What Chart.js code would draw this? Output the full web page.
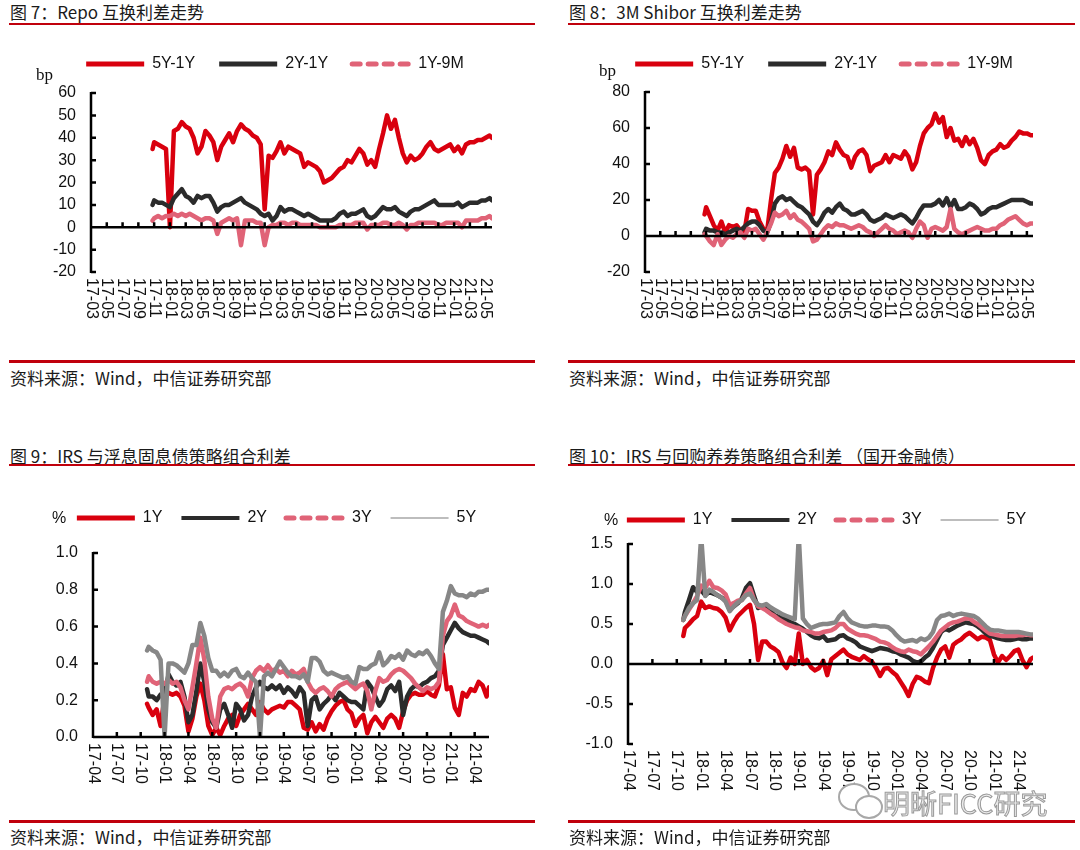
<!DOCTYPE html>
<html>
<head>
<meta charset="utf-8">
<script src="https://cdn.jsdelivr.net/npm/chart.js@4.4.1/dist/chart.umd.min.js"></script>
<style>
  body { margin: 0; width: 1080px; height: 850px; background: #fff; position: relative; overflow: hidden;
         font-family: "Noto Sans CJK SC", sans-serif; color: #1a1a1a; }
  canvas { position: absolute; }
  .title, .src { position: absolute; font-size: 17px; line-height: 20px; white-space: nowrap; }
  .rule { position: absolute; background: #c0000c; }
  .unit { position: absolute; font-size: 16px; line-height: 16px; font-family: "Liberation Sans", Arial, sans-serif; color: #111; }
  .serif { font-family: "Liberation Serif", serif; font-size: 17px; }
  .wm { position: absolute; font-size: 27px; line-height: 30px; color: #ececec; -webkit-text-stroke: 1px #9a9a9a; white-space: nowrap; }
  .bubble { position: absolute; border: 2px solid #a8a8a8; border-radius: 50%; background: #fff; }
</style>
</head>
<body>

<div class="title" style="left:10px;top:2px">图 7：Repo 互换利差走势</div>
<div class="rule" style="left:9px;top:23px;width:526px;height:2px"></div>
<div class="title" style="left:569px;top:2px">图 8：3M Shibor 互换利差走势</div>
<div class="rule" style="left:568px;top:23px;width:507px;height:2px"></div>

<canvas id="c7" width="540" height="300" style="left:0;top:30px"></canvas>
<canvas id="c8" width="540" height="300" style="left:540px;top:30px"></canvas>
<span class="unit serif" style="left:36px;top:67px">bp</span>
<span class="unit serif" style="left:599px;top:63px">bp</span>

<div class="rule" style="left:9px;top:360px;width:526px;height:3px"></div>
<div class="src" style="left:10px;top:368px">资料来源：Wind，中信证券研究部</div>
<div class="rule" style="left:568px;top:360px;width:507px;height:3px"></div>
<div class="src" style="left:569px;top:368px">资料来源：Wind，中信证券研究部</div>

<div class="title" style="left:10px;top:446px">图 9：IRS 与浮息固息债策略组合利差</div>
<div class="rule" style="left:9px;top:464px;width:526px;height:2px"></div>
<div class="title" style="left:569px;top:446px">图 10：IRS 与回购养券策略组合利差 （国开金融债）</div>
<div class="rule" style="left:568px;top:464px;width:507px;height:2px"></div>

<canvas id="c9" width="540" height="330" style="left:0;top:480px"></canvas>
<canvas id="c10" width="540" height="330" style="left:540px;top:480px"></canvas>
<span class="unit" style="left:52px;top:510px">%</span>
<span class="unit" style="left:604px;top:512px">%</span>

<div class="bubble" style="left:838px;top:783px;width:28px;height:24px"></div>
<div class="bubble" style="left:855px;top:795px;width:24px;height:20px"></div>
<div class="wm" style="left:883px;top:788px">明晰FICC研究</div>

<div class="rule" style="left:9px;top:820px;width:526px;height:3px"></div>
<div class="src" style="left:10px;top:827px">资料来源：Wind，中信证券研究部</div>
<div class="rule" style="left:568px;top:820px;width:507px;height:3px"></div>
<div class="src" style="left:569px;top:827px">资料来源：Wind，中信证券研究部</div>

<script>
// sample dates (yy-mm-dd), shared by all four charts
const dates = `
17-10-25 17-11-01 17-11-16 17-12-01 17-12-16
18-01-01 18-01-16 18-02-01 18-02-16 18-03-01 18-03-16 18-04-01 18-04-16 18-05-01 18-05-16 18-06-01 18-06-16
18-07-01 18-07-16 18-08-01 18-08-16 18-09-01 18-09-16 18-10-01 18-10-16 18-11-01 18-11-16 18-12-01 18-12-16
19-01-01 19-01-16 19-02-01 19-02-16 19-03-01 19-03-16 19-04-01 19-04-16 19-05-01 19-05-16 19-06-01 19-06-16
19-07-01 19-07-16 19-08-01 19-08-16 19-09-01 19-09-16 19-10-01 19-10-16 19-11-01 19-11-16 19-12-01 19-12-16
20-01-01 20-01-16 20-02-01 20-02-16 20-03-01 20-03-16 20-04-01 20-04-16 20-05-01 20-05-16 20-06-01 20-06-16
20-07-01 20-07-16 20-08-01 20-08-16 20-09-01 20-09-16 20-10-01 20-10-16 20-11-01 20-11-16 20-12-01 20-12-16
21-01-01 21-01-16 21-02-01 21-02-16 21-03-01 21-03-16 21-04-01 21-04-16 21-05-01 21-05-16 21-05-25
`.trim().split(/\s+/);

const ticks2m = ['17-03','17-05','17-07','17-09','17-11','18-01','18-03','18-05','18-07','18-09','18-11',
  '19-01','19-03','19-05','19-07','19-09','19-11','20-01','20-03','20-05','20-07','20-09','20-11','21-01','21-03','21-05'];
const ticks3m = ['17-04','17-07','17-10','18-01','18-04','18-07','18-10','19-01','19-04','19-07','19-10',
  '20-01','20-04','20-07','20-10','21-01','21-04'];

// 图7 Repo swap spreads (bp)
const repo5y1y = [35, 38, 37, 36, 35,
  0, 43, 44, 47, 45, 44, 40, 33, 36, 43, 41, 38, 30, 36, 39, 42, 38, 43, 46, 44, 43, 41, 40, 37,
  8, 32, 31, 34, 38, 33, 36, 35, 34, 33, 27, 29, 28, 27, 25, 20, 21, 22, 24, 26, 27, 30, 29, 32,
  35, 33, 28, 30, 27, 35, 42, 50, 44, 48, 40, 33, 29, 32, 30, 31, 33, 36, 38, 35, 34, 35, 36, 37,
  34, 36, 33, 37, 38, 38, 39, 39, 40, 41, 40];
const repo2y1y = [10, 12, 11, 11, 10,
  9, 13, 15, 17, 14, 13, 11, 14, 13, 14, 14, 11, 7, 9, 10, 10, 11, 12, 13, 11, 10, 9, 8, 6,
  5, 6, 3, 5, 9, 7, 8, 8, 7, 6, 5, 6, 5, 4, 3, 3, 3, 3, 4, 6, 7, 5, 6, 6,
  7, 8, 5, 4, 5, 7, 9, 8, 8, 9, 7, 6, 5, 7, 8, 8, 9, 10, 11, 12, 10, 10, 10, 10,
  10, 11, 9, 10, 11, 11, 11, 12, 12, 13, 12];
const repo1y9m = [3, 4, 5, 4, 5,
  5, 6, 5, 6, 5, 6, 5, 4, 3, 4, 4, 3, -3, 2, 3, 4, 3, 4, -8, 3, 3, 3, 2, 2,
  -8, 0, 1, 1, 2, 2, 1, 2, 2, 1, 1, 1, 1, 1, 0, 0, 0, 0, 0, 1, 1, 1, 1, 2,
  2, 2, -1, 1, 1, 1, 2, 2, 1, 1, 2, 1, -1, 1, 1, 2, 2, 2, 2, 2, 1, 1, 2, 2,
  2, 2, 0, 3, 3, 3, 3, 4, 4, 5, 4];

// 图8 3M Shibor swap spreads (bp)
const shibor5y1y = [12, 16, 11, 6, 3,
  8, 2, 6, 5, 6, 3, 2, 15, 14, 14, 8, 4, 3, 20, 35, 38, 43, 50, 44, 49, 38, 37, 38, 36,
  12, 34, 37, 41, 47, 45, 52, 48, 45, 44, 38, 44, 47, 48, 45, 36, 39, 40, 41, 45, 41, 45, 44, 43,
  47, 44, 37, 41, 50, 57, 60, 62, 68, 63, 66, 55, 60, 53, 54, 50, 55, 51, 54, 49, 42, 40, 45, 47,
  48, 51, 49, 50, 53, 55, 58, 57, 57, 56, 56];
const shibor2y1y = [2, 4, 3, 3, 2,
  2, 1, 2, 3, 4, 3, 5, 7, 8, 8, 6, 3, 2, 8, 18, 21, 22, 20, 21, 19, 17, 16, 14, 12,
  8, 6, 9, 13, 15, 13, 16, 18, 15, 14, 12, 12, 13, 14, 12, 9, 8, 9, 10, 12, 11, 10, 11, 12,
  11, 9, 7, 10, 14, 17, 17, 17, 18, 20, 17, 21, 16, 20, 15, 15, 16, 18, 17, 15, 12, 13, 15, 16,
  16, 17, 18, 19, 20, 20, 20, 20, 19, 18, 18];
const shibor1y9m = [1, 0, -3, -5, 1,
  -5, -2, 0, -1, 1, 2, -1, 4, 3, 4, 1, -2, 2, 7, 13, 11, 12, 14, 10, 12, 9, 8, 6, 4,
  -3, -2, 1, 4, 6, 5, 7, 6, 6, 5, 4, 5, 6, 5, 3, 2, 0, 2, 4, 6, 4, 3, 1, 2,
  3, 2, -1, 4, 8, 6, -1, 4, 5, 4, 3, 5, 15, 4, 2, 1, 2, 3, 4, 5, 4, 3, 3, 4,
  4, 6, 7, 9, 10, 11, 9, 7, 6, 7, 7];

// 图9 IRS vs floating/fixed bond (%)
const float1y = [0.18, 0.16, 0.12, 0.15, 0.06,
  0.22, 0.24, 0.23, 0.24, 0.22, 0.17, 0.03, 0.10, 0.22, 0.29, 0.20, 0.06, 0.01, 0.05, 0.01, 0.06, 0.10, 0.12, 0.06, 0.12, 0.15, 0.18, 0.15, 0.12,
  0.19, 0.15, 0.13, 0.15, 0.16, 0.17, 0.16, 0.19, 0.19, 0.17, 0.15, 0.05, 0.04, 0.08, 0.03, 0.07, 0.04, 0.10, 0.14, 0.17, 0.19, 0.20, 0.15, 0.13,
  0.06, 0.10, 0.12, 0.02, 0.08, 0.11, 0.08, 0.05, 0.10, 0.12, 0.10, 0.05, 0.14, 0.20, 0.23, 0.24, 0.23, 0.23, 0.25, 0.23, 0.22, 0.28, 0.45, 0.26,
  0.27, 0.16, 0.12, 0.24, 0.22, 0.26, 0.25, 0.30, 0.28, 0.22, 0.27];
const float2y = [0.26, 0.22, 0.22, 0.20, 0.23,
  0.22, 0.34, 0.30, 0.28, 0.30, 0.22, 0.08, 0.12, 0.25, 0.40, 0.30, 0.15, 0.08, 0.05, 0.15, 0.18, 0.12, 0.05, 0.18, 0.15, 0.09, 0.12, 0.22, 0.27,
  0.30, 0.27, 0.26, 0.28, 0.26, 0.28, 0.24, 0.27, 0.25, 0.22, 0.27, 0.24, 0.06, 0.20, 0.22, 0.15, 0.18, 0.20, 0.23, 0.20, 0.24, 0.22, 0.20, 0.19,
  0.19, 0.17, 0.15, 0.30, 0.27, 0.22, 0.17, 0.20, 0.26, 0.28, 0.25, 0.30, 0.12, 0.22, 0.26, 0.28, 0.27, 0.29, 0.30, 0.32, 0.33, 0.36, 0.50, 0.54,
  0.58, 0.62, 0.59, 0.57, 0.56, 0.55, 0.55, 0.54, 0.53, 0.52, 0.51];
const float3y = [0.30, 0.33, 0.30, 0.29, 0.30,
  0.29, 0.31, 0.29, 0.30, 0.27, 0.20, 0.15, 0.27, 0.40, 0.54, 0.42, 0.22, 0.10, 0.05, 0.22, 0.26, 0.27, 0.26, 0.28, 0.29, 0.27, 0.22, 0.32, 0.36,
  0.38, 0.36, 0.39, 0.36, 0.37, 0.35, 0.36, 0.33, 0.36, 0.34, 0.35, 0.37, 0.30, 0.26, 0.24, 0.26, 0.27, 0.25, 0.22, 0.26, 0.28, 0.29, 0.30, 0.28,
  0.26, 0.28, 0.29, 0.25, 0.15, 0.25, 0.32, 0.30, 0.31, 0.34, 0.36, 0.37, 0.36, 0.34, 0.32, 0.29, 0.27, 0.25, 0.27, 0.26, 0.27, 0.30, 0.55, 0.63,
  0.66, 0.72, 0.66, 0.65, 0.63, 0.62, 0.61, 0.60, 0.61, 0.60, 0.61];
const float5y = [0.47, 0.49, 0.47, 0.46, 0.42,
  0.00, 0.40, 0.40, 0.39, 0.37, 0.35, 0.40, 0.50, 0.50, 0.62, 0.55, 0.43, 0.36, 0.36, 0.33, 0.35, 0.33, 0.36, 0.37, 0.33, 0.32, 0.35, 0.32, 0.30,
  0.00, 0.33, 0.35, 0.33, 0.37, 0.41, 0.38, 0.35, 0.33, 0.33, 0.32, 0.34, 0.30, 0.43, 0.43, 0.41, 0.36, 0.34, 0.35, 0.34, 0.33, 0.32, 0.33, 0.30,
  0.29, 0.38, 0.37, 0.37, 0.39, 0.40, 0.46, 0.39, 0.41, 0.44, 0.43, 0.45, 0.42, 0.47, 0.45, 0.44, 0.46, 0.45, 0.47, 0.44, 0.40, 0.37, 0.68, 0.74,
  0.82, 0.78, 0.77, 0.77, 0.76, 0.78, 0.77, 0.79, 0.79, 0.80, 0.80];

// 图10 IRS vs repo carry (CDB bonds, %)
const carry1y = [0.35, 0.45, 0.50, 0.56, 0.60,
  0.78, 0.70, 0.72, 0.70, 0.69, 0.65, 0.58, 0.42, 0.52, 0.60, 0.65, 0.70, 0.74, 0.50, 0.05, 0.28, 0.28, 0.22, 0.19, 0.15, 0.02, -0.05, 0.08, 0.00,
  0.38, 0.00, 0.05, -0.04, -0.08, -0.05, 0.04, -0.14, 0.06, 0.10, 0.14, 0.18, 0.12, 0.09, 0.07, 0.05, 0.10, 0.06, 0.03, -0.05, -0.15, -0.06, -0.05, -0.10,
  -0.14, -0.22, -0.30, -0.40, -0.25, -0.16, -0.18, -0.22, -0.24, -0.05, 0.08, 0.18, 0.22, 0.08, 0.24, 0.28, 0.31, 0.36, 0.39, 0.35, 0.31, 0.34, 0.33, 0.30,
  0.12, 0.02, 0.10, 0.05, 0.10, 0.16, 0.18, 0.05, -0.04, 0.06, 0.08];
const carry2y = [0.55, 0.65, 0.80, 0.96, 0.90,
  0.92, 0.86, 0.90, 0.88, 0.86, 0.83, 0.80, 0.68, 0.72, 0.76, 0.82, 0.95, 1.01, 0.85, 0.70, 0.72, 0.70, 0.66, 0.61, 0.59, 0.57, 0.55, 0.52, 0.50,
  0.47, 0.44, 0.40, 0.36, 0.33, 0.32, 0.35, 0.29, 0.30, 0.31, 0.35, 0.36, 0.32, 0.30, 0.27, 0.22, 0.20, 0.18, 0.16, 0.18, 0.20, 0.19, 0.18, 0.16,
  0.15, 0.12, 0.10, 0.08, 0.04, 0.02, 0.03, 0.08, 0.12, 0.20, 0.30, 0.40, 0.44, 0.42, 0.45, 0.48, 0.50, 0.52, 0.51, 0.50, 0.47, 0.43, 0.38, 0.35,
  0.34, 0.32, 0.31, 0.30, 0.30, 0.31, 0.32, 0.31, 0.31, 0.32, 0.32];
const carry3y = [0.55, 0.60, 0.68, 0.76, 0.85,
  0.98, 0.95, 1.04, 0.96, 0.95, 0.92, 0.87, 0.74, 0.76, 0.79, 0.80, 0.88, 0.95, 0.80, 0.72, 0.70, 0.67, 0.63, 0.60, 0.56, 0.53, 0.50, 0.48, 0.46,
  0.45, 0.42, 0.41, 0.40, 0.38, 0.38, 0.40, 0.41, 0.42, 0.45, 0.50, 0.50, 0.44, 0.41, 0.38, 0.36, 0.36, 0.35, 0.33, 0.31, 0.28, 0.27, 0.25, 0.21,
  0.18, 0.16, 0.15, 0.18, 0.16, 0.15, 0.12, 0.17, 0.22, 0.28, 0.35, 0.42, 0.46, 0.50, 0.52, 0.53, 0.55, 0.57, 0.57, 0.53, 0.50, 0.46, 0.42, 0.38,
  0.37, 0.36, 0.35, 0.35, 0.35, 0.35, 0.36, 0.36, 0.37, 0.36, 0.36];
const carry5y = [0.55, 0.60, 0.70, 0.76, 0.80,
  1.60, 0.85, 0.93, 0.90, 0.86, 0.83, 0.78, 0.66, 0.72, 0.77, 0.80, 0.86, 0.88, 0.80, 0.74, 0.73, 0.75, 0.71, 0.68, 0.65, 0.62, 0.60, 0.58, 0.56,
  1.60, 0.57, 0.50, 0.45, 0.47, 0.49, 0.50, 0.50, 0.51, 0.52, 0.60, 0.65, 0.57, 0.52, 0.50, 0.48, 0.47, 0.47, 0.48, 0.48, 0.47, 0.47, 0.46, 0.42,
  0.36, 0.31, 0.28, 0.29, 0.30, 0.28, 0.32, 0.30, 0.33, 0.40, 0.55, 0.60, 0.61, 0.63, 0.60, 0.62, 0.63, 0.62, 0.61, 0.60, 0.57, 0.52, 0.47, 0.43,
  0.42, 0.42, 0.41, 0.40, 0.40, 0.40, 0.40, 0.39, 0.38, 0.37, 0.37];

const RED = '#d9000e', DARK = '#2b2b2b', PINK = '#e06377', GRAY = '#878787';

Chart.defaults.font.family = '"Liberation Sans", Arial, sans-serif';
Chart.defaults.font.size = 16;
Chart.defaults.color = '#111';

// months since 2017-01
function toX(d) {
  const [yy, mm, dd] = d.split('-').map(Number);
  return (yy - 17) * 12 + (mm - 1) + ((dd || 1) - 1) / 30;
}

// extra room between legend and plot
const legendGap = {
  id: 'legendGap',
  afterInit(chart, args, opts) {
    const legend = chart.legend;
    if (!legend) return;
    const fit = legend.fit;
    legend.fit = function () { fit.call(this); this.height += opts.extra || 0; };
  }
};

// axis lines at x=left and y=0 with inward ticks, rotated date labels
const axisLines = {
  id: 'axisLines',
  afterDatasetsDraw(chart, args, opts) {
    const { ctx, chartArea: a, scales: { x, y } } = chart;
    const y0 = y.getPixelForValue(Math.max(y.min, 0));
    ctx.save();
    ctx.strokeStyle = '#000';
    ctx.lineWidth = 2.5;
    ctx.beginPath();
    ctx.moveTo(a.left, a.top - 1); ctx.lineTo(a.left, a.bottom + 1);
    ctx.moveTo(a.left, y0); ctx.lineTo(a.right, y0);
    y.ticks.forEach(t => {
      const py = y.getPixelForValue(t.value);
      ctx.moveTo(a.left, py); ctx.lineTo(a.left + 5, py);
    });
    opts.labels.forEach(l => {
      const px = x.getPixelForValue(toX(l));
      ctx.moveTo(px, y0); ctx.lineTo(px, y0 - 5);
    });
    ctx.stroke();
    ctx.fillStyle = '#111';
    ctx.font = '16px "Liberation Sans", Arial, sans-serif';
    ctx.textAlign = 'left';
    ctx.textBaseline = 'middle';
    opts.labels.forEach(l => {
      const px = x.getPixelForValue(toX(l));
      ctx.save();
      ctx.translate(px, a.bottom + 6);
      ctx.rotate(Math.PI / 2);
      ctx.fillText(l, 0, 0);
      ctx.restore();
    });
    ctx.restore();
  }
};

function makeChart(id, cfg) {
  const datasets = cfg.series.map((s, i) => ({
    label: s.label,
    data: dates.map((d, j) => ({ x: toX(d), y: s.values[j] })),
    borderColor: s.color,
    backgroundColor: s.color,
    borderWidth: 4.5,
    pointRadius: 0,
    borderJoinStyle: 'round',
    borderCapStyle: 'round',
    order: -i
  }));
  return new Chart(document.getElementById(id), {
    type: 'line',
    data: { datasets },
    options: {
      responsive: false,
      animation: false,
      events: [],
      layout: { padding: cfg.padding },
      plugins: {
        tooltip: { enabled: false },
        legend: {
          labels: {
            usePointStyle: true,
            pointStyleWidth: 58,
            padding: cfg.legendPad,
            color: '#111',
            font: { size: 16 },
            sort: (a, b) => a.datasetIndex - b.datasetIndex,
            generateLabels(chart) {
              const items = Chart.defaults.plugins.legend.labels.generateLabels(chart);
              items.forEach(it => {
                const st = cfg.series[it.datasetIndex].legend;
                it.pointStyle = 'line';
                it.strokeStyle = st.color;
                it.lineWidth = st.width;
                it.lineDash = st.dash || [];
                it.lineCap = st.dash ? 'round' : 'butt';
              });
              return items;
            }
          }
        },
        legendGap: { extra: cfg.legendExtra },
        axisLines: { labels: cfg.ticks }
      },
      scales: {
        x: {
          type: 'linear', min: cfg.xMin, max: toX('21-05-25'),
          ticks: { display: false },
          grid: { display: false, drawTicks: false },
          border: { display: false }
        },
        y: {
          min: cfg.yMin, max: cfg.yMax,
          ticks: { stepSize: cfg.step, padding: 15, color: '#111', font: { size: 16 }, callback: cfg.fmt },
          grid: { display: false, drawTicks: false },
          border: { display: false },
          afterFit: s => { s.width = cfg.leftW; }
        },
        yr: {
          position: 'right',
          ticks: { display: false },
          grid: { display: false, drawTicks: false },
          border: { display: false },
          afterFit: s => { s.width = cfg.rightW; }
        }
      }
    },
    plugins: [legendGap, axisLines]
  });
}

const bpFmt = v => v;
const pctFmt = v => Number(v).toFixed(1);

makeChart('c7', {
  series: [
    { label: '5Y-1Y', values: repo5y1y, color: RED, legend: { color: RED, width: 5 } },
    { label: '2Y-1Y', values: repo2y1y, color: DARK, legend: { color: DARK, width: 5 } },
    { label: '1Y-9M', values: repo1y9m, color: PINK, legend: { color: PINK, width: 5, dash: [8, 8] } }
  ],
  padding: { top: 2, left: 10, right: 0, bottom: 58 },
  legendPad: 24, legendExtra: 11, leftW: 81, rightW: 48,
  xMin: toX('17-03'), ticks: ticks2m, yMin: -20, yMax: 60, step: 10, fmt: bpFmt
});

makeChart('c8', {
  series: [
    { label: '5Y-1Y', values: shibor5y1y, color: RED, legend: { color: RED, width: 5 } },
    { label: '2Y-1Y', values: shibor2y1y, color: DARK, legend: { color: DARK, width: 5 } },
    { label: '1Y-9M', values: shibor1y9m, color: PINK, legend: { color: PINK, width: 5, dash: [8, 8] } }
  ],
  padding: { top: 2, left: 28, right: 0, bottom: 58 },
  legendPad: 24, legendExtra: 10, leftW: 77, rightW: 47,
  xMin: toX('17-03'), ticks: ticks2m, yMin: -20, yMax: 80, step: 20, fmt: bpFmt
});

makeChart('c9', {
  series: [
    { label: '1Y', values: float1y, color: RED, legend: { color: RED, width: 5 } },
    { label: '2Y', values: float2y, color: DARK, legend: { color: DARK, width: 4 } },
    { label: '3Y', values: float3y, color: PINK, legend: { color: PINK, width: 5, dash: [8, 8] } },
    { label: '5Y', values: float5y, color: GRAY, legend: { color: '#bdbdbd', width: 2 } }
  ],
  padding: { top: 11, left: 13, right: 0, bottom: 73 },
  legendPad: 19, legendExtra: 17, leftW: 80, rightW: 51,
  xMin: toX('17-04'), ticks: ticks3m, yMin: 0, yMax: 1, step: 0.2, fmt: pctFmt
});

makeChart('c10', {
  series: [
    { label: '1Y', values: carry1y, color: RED, legend: { color: RED, width: 5 } },
    { label: '2Y', values: carry2y, color: DARK, legend: { color: DARK, width: 4 } },
    { label: '3Y', values: carry3y, color: PINK, legend: { color: PINK, width: 5, dash: [8, 8] } },
    { label: '5Y', values: carry5y, color: GRAY, legend: { color: '#bdbdbd', width: 2 } }
  ],
  padding: { top: 13, left: 33, right: 0, bottom: 66 },
  legendPad: 19, legendExtra: 6, leftW: 55, rightW: 47,
  xMin: toX('17-04'), ticks: ticks3m, yMin: -1, yMax: 1.5, step: 0.5, fmt: pctFmt
});
</script>
</body>
</html>
